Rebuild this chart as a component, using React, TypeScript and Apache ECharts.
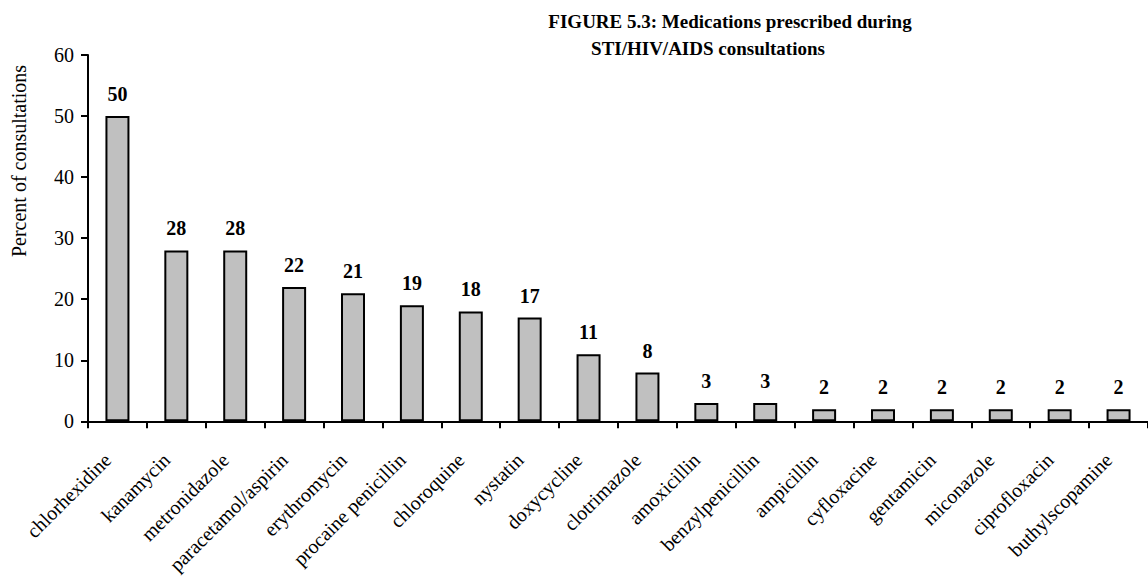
import React, { useEffect, useRef } from "react";
import * as echarts from "echarts";

const categories = [
  "chlorhexidine", "kanamycin", "metronidazole", "paracetamol/aspirin", "erythromycin",
  "procaine penicillin", "chloroquine", "nystatin", "doxycycline", "clotrimazole",
  "amoxicillin", "benzylpenicillin", "ampicillin", "cyfloxacine", "gentamicin",
  "miconazole", "ciprofloxacin", "buthylscopamine",
];
const values = [50, 28, 28, 22, 21, 19, 18, 17, 11, 8, 3, 3, 2, 2, 2, 2, 2, 2];
const titleLine1 = "FIGURE 5.3: Medications prescribed during";
const titleLine2 = "STI/HIV/AIDS consultations";
const yAxisTitle = "Percent of consultations";

const FONT = "'Liberation Serif', 'Times New Roman', serif";

export default function App() {
  const ref = useRef<HTMLDivElement>(null);
  useEffect(() => {
    if (!ref.current) return;
    const chart = echarts.init(ref.current, null, { renderer: "svg" });
    chart.setOption({
      animation: false,
      backgroundColor: "#ffffff",
      grid: { left: 88, right: 0, top: 55, bottom: 155, containLabel: false },
      graphic: [
        {
          type: "text", x: 730, y: 21,
          style: { text: titleLine1, font: `bold 19px ${FONT}`, fill: "#000", textAlign: "center", textVerticalAlign: "middle" },
        },
        {
          type: "text", x: 708, y: 48,
          style: { text: titleLine2, font: `bold 19px ${FONT}`, fill: "#000", textAlign: "center", textVerticalAlign: "middle" },
        },
        {
          type: "text", x: 19, y: 161, rotation: Math.PI / 2,
          style: { text: yAxisTitle, font: `20px ${FONT}`, fill: "#000", textAlign: "center", textVerticalAlign: "middle" },
        },
      ],
      xAxis: {
        type: "category",
        data: categories,
        boundaryGap: true,
        axisLine: { lineStyle: { color: "#000", width: 2 } },
        axisTick: { show: true, length: 7, inside: false, alignWithLabel: false, lineStyle: { color: "#000", width: 2 } },
        axisLabel: {
          rotate: 45, interval: 0, margin: 45, color: "#000", fontFamily: FONT, fontSize: 20,
          align: "right", verticalAlign: "bottom", lineHeight: 28,
        },
      },
      yAxis: {
        type: "value",
        min: 0, max: 60, interval: 10,
        axisLine: { show: true, lineStyle: { color: "#000", width: 2 } },
        axisTick: { show: true, length: 7, inside: false, lineStyle: { color: "#000", width: 2 } },
        splitLine: { show: false },
        axisLabel: { margin: 14, color: "#000", fontFamily: FONT, fontSize: 20 },
      },
      series: [
        {
          type: "bar",
          data: values,
          barWidth: 24,
          itemStyle: { color: "#c0c0c0", borderColor: "#000", borderWidth: 2 },
          label: { show: true, position: "top", distance: 12, color: "#000", fontFamily: FONT, fontWeight: "bold", fontSize: 20 },
        },
      ],
    });
    return () => chart.dispose();
  }, []);
  return <div ref={ref} style={{ position: "fixed", left: 0, top: 0, width: 1148, height: 580 }} />;
}
